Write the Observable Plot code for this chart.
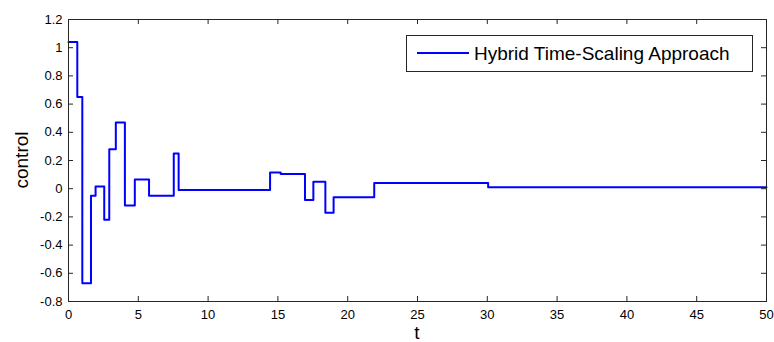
<!DOCTYPE html>
<html><head><meta charset="utf-8">
<script src="https://cdn.jsdelivr.net/npm/d3@7"></script>
<script src="https://cdn.jsdelivr.net/npm/@observablehq/plot@0.6"></script>
<style>
body{margin:0;background:#fff}
svg{font-family:"Liberation Sans",Arial,sans-serif}
</style>
</head><body><div id="chart"></div><script>
const tSwitch = [0, 0.63, 0.99, 1.61, 1.94, 2.56, 2.92, 3.39, 4.04, 4.75, 5.77, 7.54, 7.89, 14.44, 15.2, 16.94, 17.54, 18.4, 18.99, 21.9, 30.06, 50];
const uValue  = [1.04, 0.65, -0.67, -0.05, 0.015, -0.22, 0.28, 0.47, -0.12, 0.065, -0.05, 0.25, -0.01, 0.115, 0.105, -0.08, 0.05, -0.17, -0.06, 0.04, 0.01, 0.01];
const xTicks = [0, 5, 10, 15, 20, 25, 30, 35, 40, 45, 50];
const yTicks = [-0.8, -0.6, -0.4, -0.2, 0, 0.2, 0.4, 0.6, 0.8, 1, 1.2];
const seriesName = "Hybrid Time-Scaling Approach";
const xLabel = "t";
const yLabel = "control";

const data = tSwitch.map((t, i) => ({t, u: uValue[i]}));
const W = 774, H = 342, mL = 68, mR = 8, mT = 19, mB = 41;
const iw = W - mL - mR, ih = H - mT - mB, tk = 5;
const ink = "#262626";

const plot = Plot.plot({
  width: W, height: H,
  marginLeft: mL, marginRight: mR, marginTop: mT, marginBottom: mB,
  style: {fontFamily: '"Liberation Sans",Arial,sans-serif', fontSize: "13px", color: ink, background: "#fff", overflow: "visible"},
  x: {domain: [0, 50], label: null},
  y: {domain: [-0.8, 1.2], label: null},
  marks: [
    Plot.line(data, {x: "t", y: "u", curve: "step-after", stroke: "#0000ff", strokeWidth: 2}),
    Plot.frame({stroke: ink}),
    Plot.tickX(xTicks, {x: d => d, insetTop: ih - tk, stroke: ink}),
    Plot.tickX(xTicks, {x: d => d, insetBottom: ih - tk, stroke: ink}),
    Plot.tickY(yTicks, {y: d => d, insetRight: iw - tk, stroke: ink}),
    Plot.tickY(yTicks, {y: d => d, insetLeft: iw - tk, stroke: ink}),
    Plot.axisX({ticks: xTicks, tickSize: 0, tickPadding: 8, label: null, tickFormat: d => String(d), fill: "#000"}),
    Plot.axisY({ticks: yTicks, tickSize: 0, tickPadding: 6, label: null, tickFormat: d => String(d), fill: "#000"})
  ]
});
document.getElementById("chart").appendChild(plot);

const svg = d3.select(plot);
const xs = plot.scale("x");
// axis titles
svg.append("text").attr("x", xs.apply(25)).attr("y", 339).attr("text-anchor", "middle")
  .attr("font-size", 19).attr("fill", "#000").text(xLabel);
svg.append("text").attr("transform", `translate(28,${mT + ih / 2}) rotate(-90)`).attr("text-anchor", "middle")
  .attr("font-size", 19).attr("fill", "#000").text(yLabel);
// legend
const lg = svg.append("g").attr("text-anchor", "start");
lg.append("rect").attr("x", 406.5).attr("y", 35.5).attr("width", 346).attr("height", 36)
  .attr("fill", "#fff").attr("stroke", ink);
lg.append("line").attr("x1", 417).attr("x2", 469).attr("y1", 53).attr("y2", 53)
  .attr("stroke", "#0000ff").attr("stroke-width", 2);
lg.append("text").attr("x", 474).attr("y", 60).attr("text-anchor", "start")
  .attr("font-size", 19).attr("fill", "#000").text(seriesName);
</script></body></html>
